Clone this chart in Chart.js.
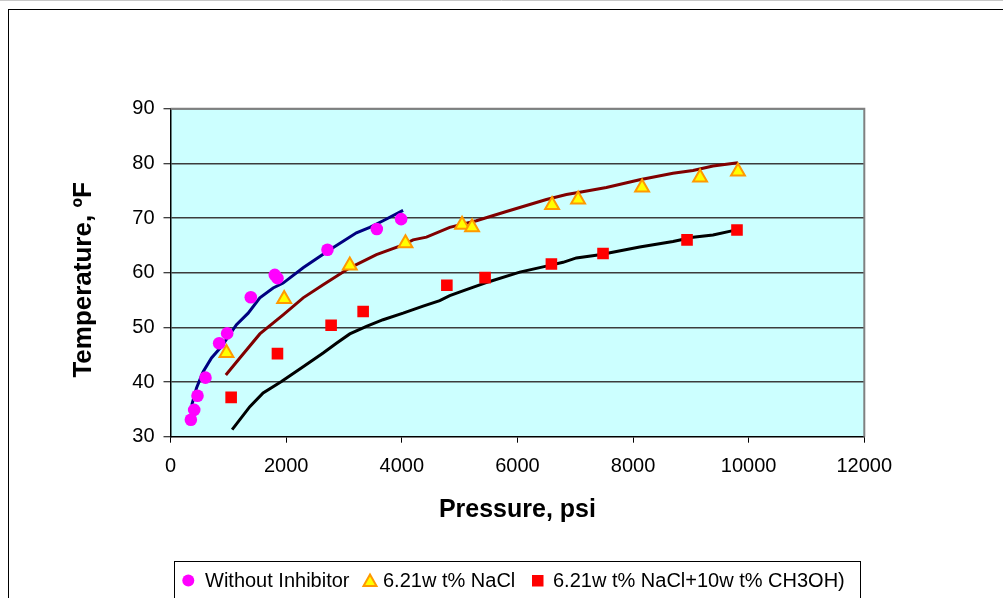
<!DOCTYPE html>
<html><head><meta charset="utf-8">
<script src="https://cdn.jsdelivr.net/npm/chart.js@4.4.1/dist/chart.umd.min.js"></script>
<style>html,body{margin:0;padding:0;background:#fff;overflow:hidden}canvas{display:block}</style>
</head><body>
<canvas id="c" width="1003" height="598"></canvas>
<script>
// ---- data ----
const xTickValues = [0, 2000, 4000, 6000, 8000, 10000, 12000];
const yTickValues = [30, 40, 50, 60, 70, 80, 90];
const seriesLabels = ['Without Inhibitor', '6.21w t% NaCl', '6.21w t% NaCl+10w t% CH3OH)'];

// measured points
const noInhibP = [352, 410, 467, 605, 842, 980, 1389, 1804, 1850, 2715, 3568, 3989];
const noInhibT = [33.1, 34.9, 37.5, 40.8, 47.1, 48.9, 55.5, 59.6, 59.0, 64.2, 68.0, 69.8];
const naclP = [968, 1966, 3101, 4064, 5043, 5216, 6600, 7050, 8157, 9160, 9815];
const naclT = [45.3, 55.2, 61.3, 65.4, 68.75, 68.3, 72.4, 73.4, 75.6, 77.4, 78.5];
const methP = [1049, 1850, 2778, 3332, 4780, 5441, 6588, 7481, 8934, 9798];
const methT = [37.2, 45.2, 50.4, 52.9, 57.7, 59.1, 61.6, 63.5, 66.0, 67.8];

// predicted curves
const noInhibCurveP = [368, 450, 565, 709, 882, 1141, 1343, 1545, 1775, 1948, 2294, 2755, 3216, 3447, 3677, 4023];
const noInhibCurveT = [35.8, 38.9, 41.9, 44.4, 46.5, 50.5, 52.6, 55.4, 57.2, 58.1, 60.9, 64.2, 67.3, 68.3, 69.5, 71.4];
const naclCurveP = [957, 1199, 1545, 1948, 2294, 2640, 3101, 3562, 4023, 4196, 4427, 4830, 5291, 5810, 6502, 6848, 7078, 7539, 8115, 8691, 9037, 9383, 9815];
const naclCurveT = [41.3, 44.4, 48.8, 52.3, 55.4, 57.8, 60.9, 63.3, 65.1, 66.0, 66.5, 68.3, 69.5, 71.2, 73.4, 74.3, 74.7, 75.6, 77.0, 78.2, 78.7, 79.5, 80.1];
const methCurveP = [1066, 1372, 1602, 1919, 2294, 2640, 2870, 3101, 3389, 3677, 4023, 4369, 4657, 4830, 5118, 5521, 6040, 6502, 6790, 7020, 7424, 8115, 8691, 9037, 9383, 9729];
const methCurveT = [31.3, 35.5, 38.0, 40.1, 42.8, 45.3, 47.1, 48.8, 50.2, 51.4, 52.6, 53.9, 54.9, 55.8, 56.9, 58.4, 60.1, 61.2, 61.9, 62.7, 63.3, 64.7, 65.7, 66.5, 66.9, 67.7];

const pts = (xs, ys) => xs.map((x, i) => ({x: x, y: ys[i]}));
const FONT = '"Liberation Sans", Arial, sans-serif';

const PLOT = {left: 170.5, top: 108.7, right: 864.3, bottom: 436.7};

const bgPlugin = {
  id: 'bg',
  beforeDraw(chart) {
    const ctx = chart.ctx, a = chart.chartArea;
    ctx.save();
    ctx.fillStyle = '#ffffff';
    ctx.fillRect(0, 0, chart.width, chart.height);
    ctx.fillStyle = '#CCFFFF';
    ctx.fillRect(a.left, a.top, a.right - a.left, a.bottom - a.top);
    // outer chart border
    ctx.strokeStyle = '#000';
    ctx.lineWidth = 1;
    ctx.strokeRect(8.5, 9.5, 1100, 700);
    ctx.strokeStyle = '#c8c8c8';
    ctx.beginPath(); ctx.moveTo(0, 0.5); ctx.lineTo(chart.width, 0.5); ctx.stroke();
    ctx.restore();
  },
  afterDraw(chart) {
    const ctx = chart.ctx, a = chart.chartArea;
    ctx.save();
    // plot border (top / right)
    ctx.strokeStyle = '#808080';
    ctx.lineWidth = 2;
    ctx.beginPath();
    ctx.moveTo(a.left, a.top); ctx.lineTo(a.right, a.top); ctx.lineTo(a.right, a.bottom);
    ctx.stroke();

    // legend box
    ctx.strokeStyle = '#000';
    ctx.lineWidth = 1;
    ctx.strokeRect(174.5, 561.5, 686, 80);
    ctx.font = '20px ' + FONT;
    ctx.fillStyle = '#000';
    ctx.textBaseline = 'alphabetic';
    const baseY = 586.5, midY = 580.5;
    // circle
    ctx.fillStyle = '#FF00FF';
    ctx.beginPath(); ctx.arc(188.3, midY, 6, 0, Math.PI * 2); ctx.fill();
    ctx.fillStyle = '#000';
    ctx.fillText(seriesLabels[0], 205, baseY);
    // triangle
    ctx.fillStyle = '#FFFF00'; ctx.strokeStyle = '#FF9900'; ctx.lineWidth = 2;
    ctx.beginPath(); ctx.moveTo(370, 574.5); ctx.lineTo(376.5, 586); ctx.lineTo(363.5, 586); ctx.closePath();
    ctx.fill(); ctx.stroke();
    ctx.fillStyle = '#000';
    ctx.fillText(seriesLabels[1], 383, baseY);
    // square
    ctx.fillStyle = '#FF0000';
    ctx.fillRect(532, 575, 11.5, 11.5);
    ctx.fillStyle = '#000';
    ctx.fillText(seriesLabels[2], 553, baseY);
    ctx.restore();
  }
};

new Chart(document.getElementById('c'), {
  type: 'scatter',
  data: {
    datasets: [
      {label: seriesLabels[0], data: pts(noInhibP, noInhibT), pointStyle: 'circle', pointRadius: 6.3,
       backgroundColor: '#FF00FF', borderColor: '#FF00FF', borderWidth: 0, order: 0},
      {label: seriesLabels[1], data: pts(naclP, naclT), pointStyle: 'triangle', pointRadius: 8,
       backgroundColor: '#FFFF00', borderColor: '#FF9900', borderWidth: 2, order: 0},
      {label: seriesLabels[2], data: pts(methP, methT), pointStyle: 'rect', pointRadius: 8.2,
       backgroundColor: '#FF0000', borderColor: '#FF0000', borderWidth: 0, order: 0},
      {label: 'curve1', data: pts(noInhibCurveP, noInhibCurveT), showLine: true, pointRadius: 0,
       borderColor: '#000080', borderWidth: 3, tension: 0, order: 1},
      {label: 'curve2', data: pts(naclCurveP, naclCurveT), showLine: true, pointRadius: 0,
       borderColor: '#800000', borderWidth: 3, tension: 0, order: 1},
      {label: 'curve3', data: pts(methCurveP, methCurveT), showLine: true, pointRadius: 0,
       borderColor: '#000000', borderWidth: 3, tension: 0, order: 1}
    ]
  },
  options: {
    responsive: false,
    animation: false,
    devicePixelRatio: 1,
    layout: {padding: {left: 0, top: PLOT.top, right: 1003 - PLOT.right, bottom: 0}},
    plugins: {legend: {display: false}, tooltip: {enabled: false}},
    scales: {
      x: {
        type: 'linear', min: 0, max: 12000,
        afterBuildTicks(s) { s.ticks = xTickValues.map(v => ({value: v})); },
        afterFit(s) { s.height = 598 - PLOT.bottom; },
        ticks: {color: '#000', font: {family: FONT, size: 20}, padding: 12,
                callback: v => String(v)},
        grid: {drawOnChartArea: false, drawTicks: true, tickLength: 6, tickColor: '#000', tickWidth: 1},
        border: {display: true, color: '#000', width: 1.5},
        title: {display: true, text: 'Pressure, psi', color: '#000',
                font: {family: FONT, size: 25, weight: 'bold'}, padding: {top: 0, bottom: 73}}
      },
      y: {
        type: 'linear', min: 30, max: 90,
        afterBuildTicks(s) { s.ticks = yTickValues.map(v => ({value: v})); },
        afterFit(s) { s.width = PLOT.left; },
        ticks: {color: '#000', font: {family: FONT, size: 20}, padding: 9,
                callback: v => String(v)},
        grid: {drawOnChartArea: true, drawTicks: true, tickLength: 7, tickColor: '#000', tickWidth: 1,
               lineWidth: 1.5,
               color: c => (c.tick && c.tick.value === 30) ? 'rgba(0,0,0,0)' : '#3c3c3c'},
        border: {display: true, color: '#000', width: 1.5},
        title: {display: true, text: 'Temperature, ºF  ', color: '#000',
                font: {family: FONT, size: 26, weight: 'bold'}, padding: {top: 68, bottom: 0}}
      }
    }
  },
  plugins: [bgPlugin]
});
</script>
</body></html>
